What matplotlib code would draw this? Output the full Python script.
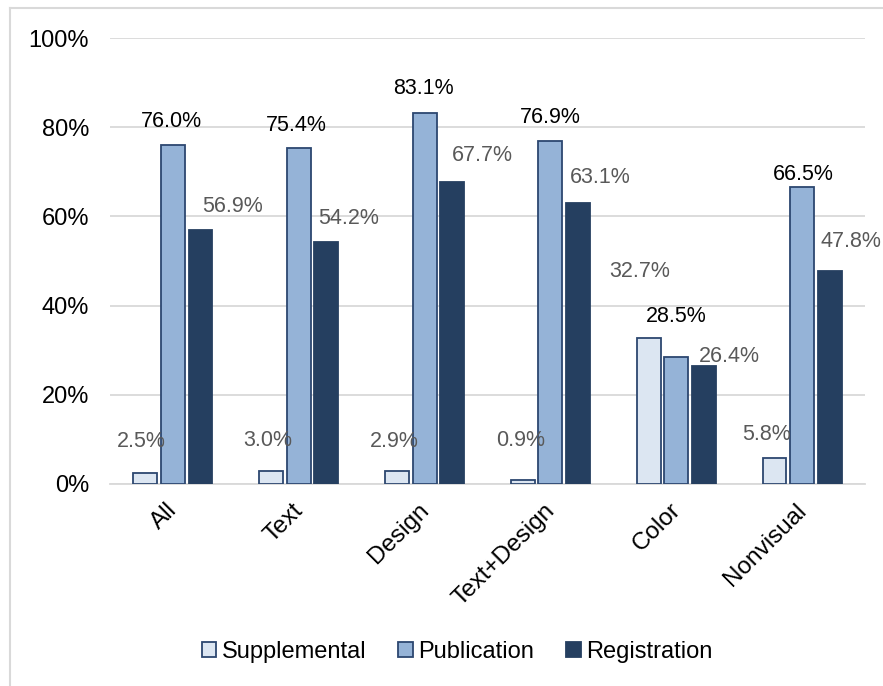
import matplotlib
matplotlib.use("Agg")
import matplotlib.pyplot as plt
from matplotlib.lines import Line2D
from matplotlib.ticker import PercentFormatter, MultipleLocator
from matplotlib.transforms import ScaledTranslation
import numpy as np

plt.rcParams['font.family'] = ['Liberation Sans', 'DejaVu Sans']

categories = ["All", "Text", "Design", "Text+Design", "Color", "Nonvisual"]
series_names = ["Supplemental", "Publication", "Registration"]
supplemental = [2.5, 3.0, 2.9, 0.9, 32.7, 5.8]
publication = [76.0, 75.4, 83.1, 76.9, 28.5, 66.5]
registration = [56.9, 54.2, 67.7, 63.1, 26.4, 47.8]

fills = ["#dce6f2", "#95b3d7", "#253f60"]
edges = ["#2c4770", "#2c4770", "#253f60"]
label_colors = ["#595959", "#000000", "#595959"]

# label offsets from each bar's top centre, in pixels (dx, dy)
label_offsets = [
    [(-4, 31), (-3, 30), (-3, 30), (-2, 39), (-9, 67), (-8, 24)],
    [(-1, 24), (-2, 22), (-1, 25), (0, 24), (0, 40), (1, 13)],
    [(32, 24), (22, 24), (30, 27), (22, 25), (26, 10), (21, 29)],
]

fig = plt.figure(figsize=(8.83, 6.86), dpi=100)
ax = fig.add_axes([110 / 883, 1 - 484 / 686, 755 / 883, 446 / 686])

x = np.arange(len(categories))
width = 0.19
step = 0.219
values = [supplemental, publication, registration]
for k, (vals, name) in enumerate(zip(values, series_names)):
    pos = x + (k - 1) * step
    bars = ax.bar(pos, vals, width, color=fills[k], edgecolor=edges[k],
                  linewidth=1.3, label=name, zorder=3)
    for i, (b, v) in enumerate(zip(bars, vals)):
        dx, dy = label_offsets[k][i]
        ax.annotate(f"{v:.1f}%", (b.get_x() + b.get_width() / 2, v),
                    xytext=(dx, dy), textcoords="offset pixels",
                    ha="center", va="center", fontsize=15.5,
                    color=label_colors[k], zorder=4)

ax.set_xlim(-0.5, len(categories) - 0.5)
ax.set_ylim(0, 100)
ax.yaxis.set_major_locator(MultipleLocator(20))
ax.yaxis.set_major_formatter(PercentFormatter(decimals=0))
ax.grid(axis="y", color="#d9d9d9", linewidth=1.3, zorder=0)
ax.set_axisbelow(True)
for s in ["top", "right", "left"]:
    ax.spines[s].set_visible(False)
ax.spines["bottom"].set_color("#d9d9d9")
ax.spines["bottom"].set_linewidth(1.3)
ax.tick_params(axis="y", length=0, pad=15, labelsize=17)
ax.tick_params(axis="x", length=0, pad=11, labelsize=17.5)
ax.set_xticks(x)
ax.set_xticklabels(categories, rotation=45, ha="right", va="top",
                   rotation_mode="anchor")
shift = ScaledTranslation(-7 / 100, 0, fig.dpi_scale_trans)
for lab in ax.get_xticklabels():
    lab.set_transform(lab.get_transform() + shift)

leg = fig.legend(loc="center", bbox_to_anchor=(457 / 883, 1 - 652 / 686),
                 ncol=3, frameon=False, fontsize=17, handlelength=0.63,
                 handleheight=0.63, handletextpad=0.22, columnspacing=1.35)

# chart area border (left and top edges)
fig.add_artist(Line2D([10 / 883, 10 / 883], [0, 1 - 8 / 686],
                      transform=fig.transFigure, color="#d9d9d9", linewidth=1.5))
fig.add_artist(Line2D([10 / 883, 1], [1 - 8 / 686, 1 - 8 / 686],
                      transform=fig.transFigure, color="#d9d9d9", linewidth=1.5))

fig.savefig("out.png", dpi=100)
